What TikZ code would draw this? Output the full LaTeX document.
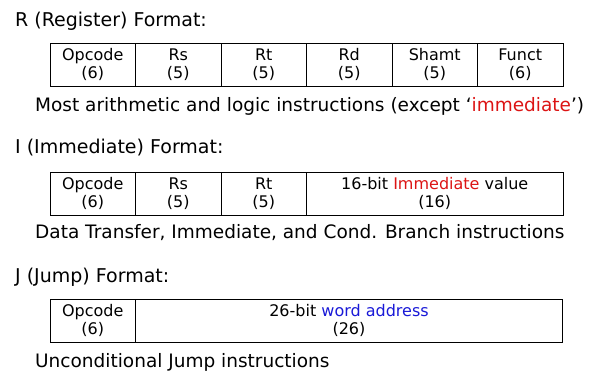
\documentclass[tikz,border=0pt]{standalone}
\usepackage{fontspec}
\setmainfont{DejaVu Sans}
\usetikzlibrary{positioning}
\definecolor{immRed}{RGB}{220,20,20}
\definecolor{addrBlue}{RGB}{25,25,215}

\tikzset{
  field/.style={draw, line width=1pt, outer sep=0pt, inner sep=0pt,
    minimum height=43pt, minimum width=85.5pt, align=center,
    font=\fontsize{16}{17.5}\selectfont},
  heading/.style={anchor=base west, inner sep=0pt, font=\fontsize{19}{21}\selectfont},
  remark/.style={anchor=base west, inner sep=0pt, font=\fontsize{18.5}{20}\selectfont}
}

\begin{document}
\begin{tikzpicture}[x=1pt, y=-1pt]
  \useasboundingbox (0,0) rectangle (595,373);

  % R format
  \node[heading] (rhead) at (15,26) {R (Register) Format:};
  \node[field, anchor=north west] (rop) at (50,43) {Opcode\\(6)};
  \node[field, right=0pt of rop] (rrs) {Rs\\(5)};
  \node[field, right=0pt of rrs] (rrt) {Rt\\(5)};
  \node[field, right=0pt of rrt] (rrd) {Rd\\(5)};
  \node[field, right=0pt of rrd] (rsh) {Shamt\\(5)};
  \node[field, right=0pt of rsh] (rfn) {Funct\\(6)};
  \node[remark] (rnote) at (35,111)
    {Most arithmetic and logic instructions (except `\textcolor{immRed}{immediate}')};

  % I format
  \node[heading] (ihead) at (15,153) {I (Immediate) Format:};
  \node[field, anchor=north west] (iop) at (50,172) {Opcode\\(6)};
  \node[field, right=0pt of iop] (irs) {Rs\\(5)};
  \node[field, right=0pt of irs] (irt) {Rt\\(5)};
  \node[field, right=0pt of irt, minimum width=256.5pt] (iimm)
    {16-bit \textcolor{immRed}{Immediate} value\\(16)};
  \node[remark] (inote) at (35,238)
    {Data Transfer, Immediate, and Cond. Branch instructions};

  % J format
  \node[heading] (jhead) at (15,282) {J (Jump) Format:};
  \node[field, anchor=north west] (jop) at (50,299) {Opcode\\(6)};
  \node[field, right=0pt of jop, minimum width=427pt] (jaddr)
    {26-bit \textcolor{addrBlue}{word address}\\(26)};
  \node[remark] (jnote) at (35,367) {Unconditional Jump instructions};
\end{tikzpicture}
\end{document}
